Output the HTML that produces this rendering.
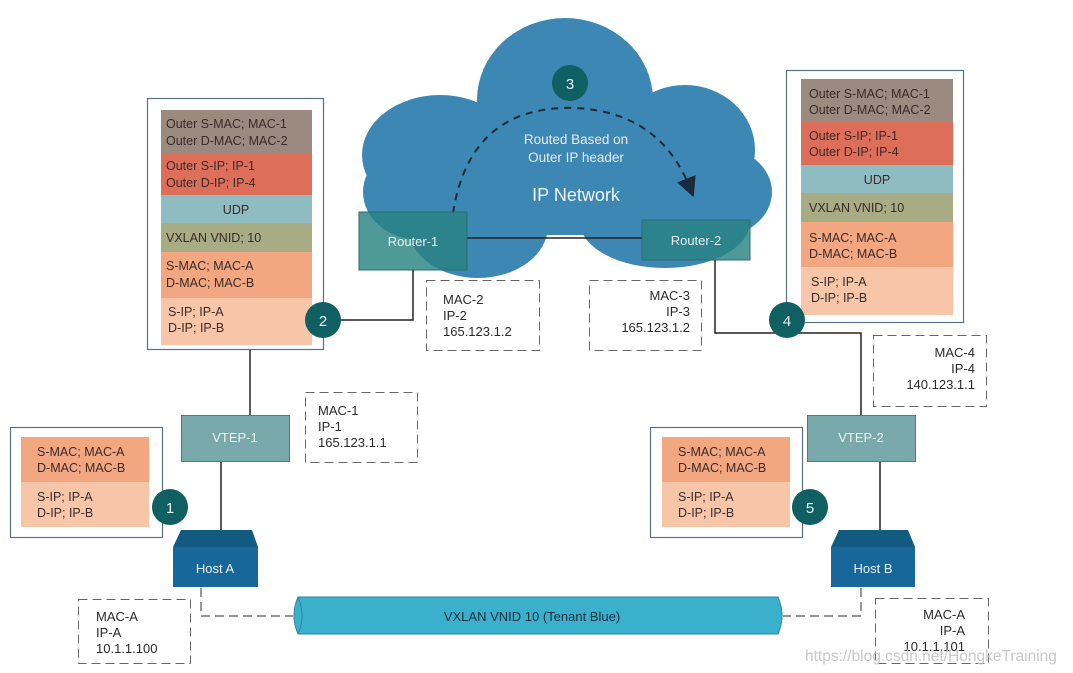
<!DOCTYPE html>
<html><head><meta charset="utf-8"><style>
html,body{margin:0;padding:0;background:#fff;}
svg{display:block;font-family:"Liberation Sans",sans-serif;}
</style></head><body>
<svg width="1073" height="673" viewBox="0 0 1073 673" xmlns="http://www.w3.org/2000/svg">
<defs>
<marker id="ah" markerWidth="10" markerHeight="10" refX="5" refY="5" orient="auto"><path d="M0,0 L10,5 L0,10 z" fill="#1a2a3a"/></marker>
</defs>
<g fill="#3d87b4">
<ellipse cx="565" cy="100" rx="88" ry="82"/>
<ellipse cx="440" cy="155" rx="78" ry="60"/>
<ellipse cx="685" cy="150" rx="70" ry="65"/>
<ellipse cx="420" cy="192" rx="57" ry="48"/>
<ellipse cx="715" cy="192" rx="57" ry="46"/>
<ellipse cx="478" cy="226" rx="70" ry="52"/>
<ellipse cx="665" cy="222" rx="85" ry="46"/>
<rect x="440" y="130" width="260" height="105"/>
</g>
<path d="M453,213 Q470,105 575,108 Q660,112 690,188" fill="none" stroke="#1a2a3a" stroke-width="2" stroke-dasharray="7,6" marker-end="url(#ah)"/>
<circle cx="570" cy="83" r="18" fill="#0f5f63"/>
<text x="570" y="89" fill="#e8f4f4" font-size="15" text-anchor="middle">3</text>
<text x="576" y="144" fill="#e6eef5" font-size="13.5" text-anchor="middle">Routed Based on</text>
<text x="576" y="162" fill="#e6eef5" font-size="13.5" text-anchor="middle">Outer IP header</text>
<text x="576" y="201" fill="#f0f5fa" font-size="18" text-anchor="middle">IP Network</text>
<line x1="467" y1="238" x2="642" y2="238" stroke="#222" stroke-width="1.5"/>
<rect x="359" y="212" width="108" height="58" fill="rgba(40,130,130,0.82)" stroke="#2a6e70" stroke-width="1"/>
<text x="413" y="246" fill="#e8f2f2" font-size="13" text-anchor="middle">Router-1</text>
<rect x="642" y="220" width="108" height="40" fill="rgba(40,130,130,0.82)" stroke="#2a6e70" stroke-width="1"/>
<text x="696" y="245" fill="#e8f2f2" font-size="13" text-anchor="middle">Router-2</text>
<g stroke="#222" stroke-width="1.5" fill="none">
<polyline points="413,270 413,320 338,320"/>
<polyline points="715,260 715,333 861,333 861,415"/>
<line x1="250" y1="350" x2="250" y2="415"/>
<line x1="221" y1="461" x2="221" y2="530"/>
<line x1="880" y1="461" x2="880" y2="530"/>
</g>
<rect x="147.5" y="98.5" width="176" height="251" fill="#fff" stroke="#5a7186" stroke-width="1.2"/>
<rect x="161" y="110" width="151" height="43" fill="#9b8a80"/>
<rect x="161" y="153" width="151" height="42" fill="#dd6e5a"/>
<rect x="161" y="195" width="151" height="28" fill="#8fbcc1"/>
<rect x="161" y="223" width="151" height="29" fill="#a7ac85"/>
<rect x="161" y="252" width="151" height="46" fill="#f3a781"/>
<rect x="161" y="298" width="151" height="47" fill="#f7c6a9"/>
<g fill="#3a2a28" font-size="12.5">
<text x="166" y="128">Outer S-MAC; MAC-1</text><text x="166" y="145">Outer D-MAC; MAC-2</text>
<text x="166" y="170">Outer S-IP; IP-1</text><text x="166" y="187">Outer D-IP; IP-4</text>
<text x="236" y="214" text-anchor="middle">UDP</text>
<text x="166" y="242">VXLAN VNID; 10</text>
<text x="166" y="270">S-MAC; MAC-A</text><text x="166" y="287">D-MAC; MAC-B</text>
<text x="168" y="316">S-IP; IP-A</text><text x="168" y="332">D-IP; IP-B</text>
</g>
<rect x="786.5" y="70.5" width="177" height="252" fill="#fff" stroke="#5a7186" stroke-width="1.2"/>
<rect x="801" y="79" width="152" height="43" fill="#9b8a80"/>
<rect x="801" y="122" width="152" height="43" fill="#dd6e5a"/>
<rect x="801" y="165" width="152" height="28" fill="#8fbcc1"/>
<rect x="801" y="193" width="152" height="29" fill="#a7ac85"/>
<rect x="801" y="222" width="152" height="45" fill="#f3a781"/>
<rect x="801" y="267" width="152" height="48" fill="#f7c6a9"/>
<g fill="#3a2a28" font-size="12.5">
<text x="809" y="98">Outer S-MAC; MAC-1</text><text x="809" y="114">Outer D-MAC; MAC-2</text>
<text x="809" y="140">Outer S-IP; IP-1</text><text x="809" y="156">Outer D-IP; IP-4</text>
<text x="877" y="184" text-anchor="middle">UDP</text>
<text x="809" y="212">VXLAN VNID; 10</text>
<text x="809" y="242">S-MAC; MAC-A</text><text x="809" y="258">D-MAC; MAC-B</text>
<text x="811" y="286">S-IP; IP-A</text><text x="811" y="302">D-IP; IP-B</text>
</g>
<circle cx="323" cy="320" r="18" fill="#0f5f63"/><text x="323" y="326" fill="#e8f4f4" font-size="15" text-anchor="middle">2</text>
<circle cx="787" cy="320" r="18" fill="#0f5f63"/><text x="787" y="326" fill="#e8f4f4" font-size="15" text-anchor="middle">4</text>
<g fill="none" stroke="#666" stroke-width="1" stroke-dasharray="9,5">
<rect x="426.5" y="280.5" width="113" height="70"/>
<rect x="589.5" y="280.5" width="112" height="70"/>
<rect x="305.5" y="392.5" width="112" height="70"/>
<rect x="873.5" y="335.5" width="113" height="71"/>
<rect x="78.5" y="599.5" width="112" height="64"/>
<rect x="875.5" y="598.5" width="113" height="65"/>
</g>
<g fill="#2a2a2a" font-size="13">
<text x="443" y="304">MAC-2</text><text x="443" y="320">IP-2</text><text x="443" y="336">165.123.1.2</text>
<g text-anchor="end"><text x="690" y="300">MAC-3</text><text x="690" y="316">IP-3</text><text x="690" y="332">165.123.1.2</text></g>
<text x="318" y="415">MAC-1</text><text x="318" y="431">IP-1</text><text x="318" y="447">165.123.1.1</text>
<g text-anchor="end"><text x="975" y="357">MAC-4</text><text x="975" y="373">IP-4</text><text x="975" y="389">140.123.1.1</text></g>
<text x="96" y="621">MAC-A</text><text x="96" y="637">IP-A</text><text x="96" y="653">10.1.1.100</text>
<g text-anchor="end"><text x="965" y="619">MAC-A</text><text x="965" y="635">IP-A</text><text x="965" y="651">10.1.1.101</text></g>
</g>
<rect x="181.5" y="415.5" width="108" height="46" fill="#79a9ab" stroke="#4d7a86"/>
<text x="235" y="442" fill="#eef6f6" font-size="13" text-anchor="middle">VTEP-1</text>
<rect x="807.5" y="415.5" width="108" height="46" fill="#79a9ab" stroke="#4d7a86"/>
<text x="861" y="442" fill="#eef6f6" font-size="13" text-anchor="middle">VTEP-2</text>
<rect x="10.5" y="427.5" width="152" height="110" fill="#fff" stroke="#5a7186" stroke-width="1.2"/>
<rect x="21" y="437" width="128" height="45" fill="#f3a781"/><rect x="21" y="482" width="128" height="45" fill="#f7c6a9"/>
<rect x="650.5" y="427.5" width="152" height="110" fill="#fff" stroke="#5a7186" stroke-width="1.2"/>
<rect x="662" y="437" width="128" height="45" fill="#f3a781"/><rect x="662" y="482" width="128" height="45" fill="#f7c6a9"/>
<g fill="#3a2a28" font-size="12.5">
<text x="37" y="456">S-MAC; MAC-A</text><text x="37" y="472">D-MAC; MAC-B</text>
<text x="37" y="501">S-IP; IP-A</text><text x="37" y="517">D-IP; IP-B</text>
<text x="678" y="456">S-MAC; MAC-A</text><text x="678" y="472">D-MAC; MAC-B</text>
<text x="678" y="501">S-IP; IP-A</text><text x="678" y="517">D-IP; IP-B</text>
</g>
<circle cx="170" cy="507" r="18" fill="#0f5f63"/><text x="170" y="513" fill="#e8f4f4" font-size="15" text-anchor="middle">1</text>
<circle cx="810" cy="507" r="18" fill="#0f5f63"/><text x="810" y="513" fill="#e8f4f4" font-size="15" text-anchor="middle">5</text>
<polygon points="181,530 252,530 258,547 173,547" fill="#125a80"/>
<rect x="173" y="547" width="85" height="40" fill="#17679b"/>
<text x="215" y="573" fill="#eaf2f8" font-size="13" text-anchor="middle">Host A</text>
<polygon points="839,530 908,530 915,547 831,547" fill="#125a80"/>
<rect x="831" y="547" width="84" height="40" fill="#17679b"/>
<text x="873" y="573" fill="#eaf2f8" font-size="13" text-anchor="middle">Host B</text>
<g fill="none" stroke="#555" stroke-width="1.2" stroke-dasharray="9,5">
<polyline points="201,588 201,616 293,616"/>
<polyline points="861,588 861,616 783,616"/>
</g>
<path d="M298,597 L778,597 Q786,616 778,634 L298,634 Q290,616 298,597 z" fill="#3ab0cc" stroke="#2a8aa0" stroke-width="1"/>
<path d="M298,597 Q306,616 298,634" fill="none" stroke="#2a8aa0"/>
<text x="532" y="621" fill="#1e2e3a" font-size="13" text-anchor="middle">VXLAN VNID 10 (Tenant Blue)</text>
<text x="805" y="661" fill="#c8c8c8" font-size="15.5">https://blog.csdn.net/HongkeTraining</text>
</svg>
</body></html>
